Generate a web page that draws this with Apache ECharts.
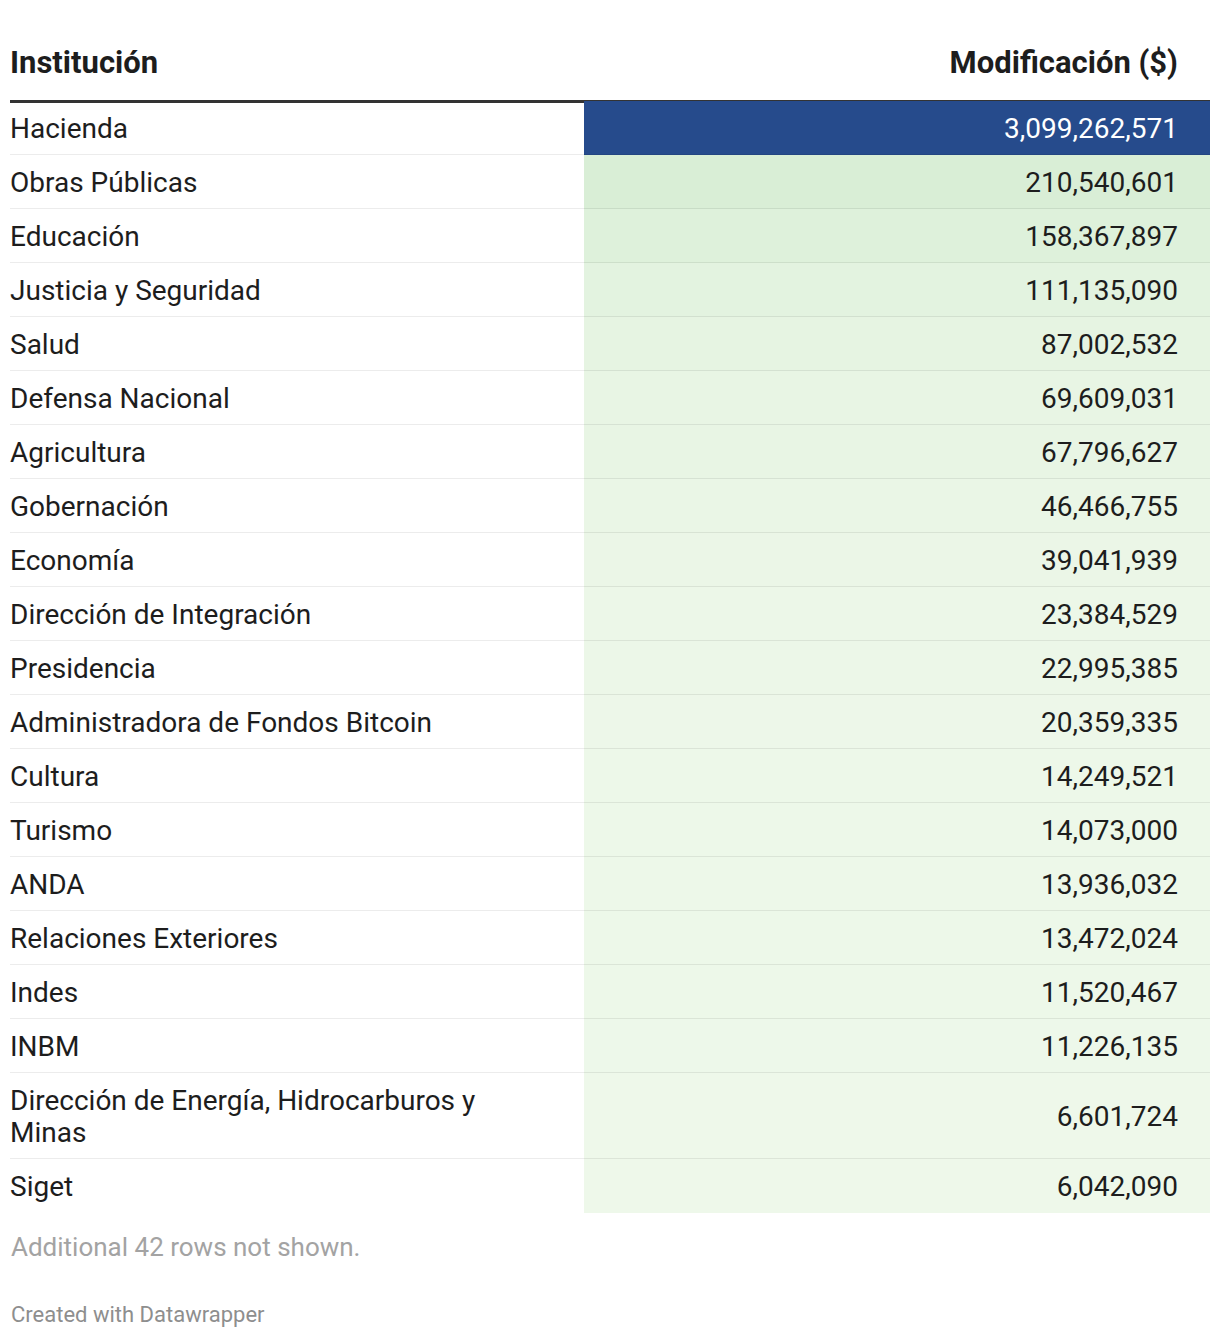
<!DOCTYPE html>
<html>
<head>
<meta charset="utf-8">
<script src="https://cdn.jsdelivr.net/npm/echarts@6/dist/echarts.min.js"></script>
<style>
html,body{margin:0;padding:0;background:#fff;}
#chart{width:1220px;height:1338px;}
</style>
</head>
<body>
<div id="chart"></div>
<script>
// ---- data ----
const institutions = [
  'Hacienda', 'Obras Públicas', 'Educación', 'Justicia y Seguridad', 'Salud',
  'Defensa Nacional', 'Agricultura', 'Gobernación', 'Economía', 'Dirección de Integración',
  'Presidencia', 'Administradora de Fondos Bitcoin', 'Cultura', 'Turismo', 'ANDA',
  'Relaciones Exteriores', 'Indes', 'INBM', 'Dirección de Energía, Hidrocarburos y Minas', 'Siget'
];
const modificaciones = [
  3099262571, 210540601, 158367897, 111135090, 87002532,
  69609031, 67796627, 46466755, 39041939, 23384529,
  22995385, 20359335, 14249521, 14073000, 13936032,
  13472024, 11520467, 11226135, 6601724, 6042090
];
const headers = ['Institución', 'Modificación ($)'];
const footnote = 'Additional 42 rows not shown.';
const credit = 'Created with Datawrapper';

// ---- layout helpers ----
const FONT = 'Roboto, "Noto Sans", sans-serif';
const BODY = '28px ' + FONT;
const tableW = 1200, nameColW = 574, wrapW = 520;
const rowH = 54, lineH = 32;

const mctx = document.createElement('canvas').getContext('2d');
mctx.font = BODY;
function wrap(text) {
  const words = text.split(' ');
  const lines = [];
  let cur = '';
  words.forEach(w => {
    const t = cur ? cur + ' ' + w : w;
    if (mctx.measureText(t).width > wrapW && cur) { lines.push(cur); cur = w; }
    else cur = t;
  });
  lines.push(cur);
  return lines;
}
const wrapped = institutions.map(wrap);
let acc = 0;
const rows = institutions.map((n, i) => {
  const h = rowH + (wrapped[i].length - 1) * lineH;
  const r = [i, modificaciones[i], acc, acc + h];
  acc += h;
  return r;
});
const totalH = acc;
const fmt = v => v.toLocaleString('en-US');

function isDark(c) {
  let r, g, b;
  if (c[0] === '#') { r = parseInt(c.substr(1,2),16); g = parseInt(c.substr(3,2),16); b = parseInt(c.substr(5,2),16); }
  else { const m = c.match(/\d+(\.\d+)?/g); r = +m[0]; g = +m[1]; b = +m[2]; }
  return (0.299*r + 0.587*g + 0.114*b) < 150;
}

const chart = echarts.init(document.getElementById('chart'), null, {renderer: 'svg'});
chart.setOption({
  backgroundColor: '#fff',
  animation: false,
  grid: {left: 10, top: 101, width: tableW, height: totalH},
  xAxis: {
    type: 'value', min: 0, max: tableW, position: 'top',
    axisLine: {show: true, lineStyle: {color: '#333', width: 3, cap: 'butt'}}, offset: 1.5,
    axisTick: {show: false}, axisLabel: {show: false}, splitLine: {show: false}
  },
  yAxis: {
    type: 'value', min: 0, max: totalH, inverse: true, show: false, splitLine: {show: false}
  },
  visualMap: {
    type: 'continuous', show: false, dimension: 1, seriesIndex: 0,
    min: Math.min(...modificaciones), max: Math.max(...modificaciones),
    inRange: {color: ['#eef8ea', '#9fd3a0', '#5aa8b5', '#3a74a8', '#264b8c']}
  },
  graphic: [
    {type: 'text', left: 10, top: 47, style: {text: headers[0], font: 'bold 31px ' + FONT, fill: '#1d1d1d'}},
    {type: 'text', right: 42, top: 47, style: {text: headers[1], font: 'bold 31px ' + FONT, fill: '#1d1d1d'}},
    {type: 'text', left: 11, top: 1234, style: {text: footnote, font: '26px ' + FONT, fill: '#a3a3a3'}},
    {type: 'text', left: 11, top: 1303, style: {text: credit, font: '22px ' + FONT, fill: '#8e8e8e'}}
  ],
  series: [{
    type: 'custom',
    coordinateSystem: 'cartesian2d',
    encode: {x: -1, y: [2, 3]},
    data: rows,
    renderItem: function (params, api) {
      const i = api.value(0);
      const y0 = api.value(2), y1 = api.value(3);
      const color = api.visual('color');
      const p0 = api.coord([nameColW, y0]);
      const p1 = api.coord([tableW, y1]);
      const left = api.coord([0, y0]);
      const mid = (p0[1] + p1[1]) / 2;
      const children = [
        {type: 'rect', shape: {x: p0[0], y: p0[1], width: p1[0] - p0[0], height: p1[1] - p0[1]}, style: {fill: color}},
        {type: 'text', x: left[0], y: mid, style: {
          text: wrapped[i].join('\n'), font: BODY, fill: '#1d1d1d', lineHeight: lineH,
          verticalAlign: 'middle', align: 'left'}},
        {type: 'text', x: p1[0] - 32, y: mid, style: {
          text: fmt(api.value(1)), font: BODY, fill: isDark(color) ? '#ffffff' : '#1d1d1d',
          verticalAlign: 'middle', align: 'right'}}
      ];
      if (i < rows.length - 1) {
        children.push({type: 'line', shape: {x1: left[0], y1: p1[1] - 0.5, x2: p1[0], y2: p1[1] - 0.5},
          style: {stroke: 'rgba(0,0,0,0.075)', lineWidth: 1}});
      }
      return {type: 'group', children: children};
    }
  }]
});
</script>
</body>
</html>
